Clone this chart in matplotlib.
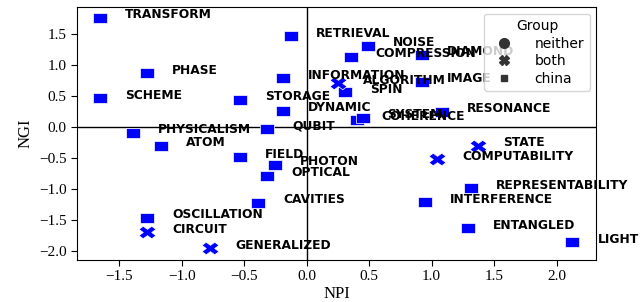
import matplotlib.pyplot as plt
import numpy as np
from matplotlib.path import Path
from matplotlib.markers import MarkerStyle
from matplotlib.lines import Line2D

# Data: terms and their (NPI, NGI) positions
china_terms = ['TRANSFORM', 'PHASE', 'SCHEME', 'STORAGE', 'INFORMATION', 'RETRIEVAL',
               'DYNAMIC', 'QUBIT', 'PHYSICALISM', 'ATOM', 'FIELD', 'PHOTON', 'OPTICAL',
               'CAVITIES', 'OSCILLATION', 'REPRESENTABILITY', 'INTERFERENCE', 'ENTANGLED',
               'LIGHT', 'NOISE', 'COMPRESSION', 'DIAMOND', 'IMAGE', 'SPIN', 'COHERENCE',
               'SYSTEM', 'RESONANCE']
china_npi = [-1.654, -1.275, -1.654, -0.534, -0.187, -0.126,
             -0.187, -0.315, -1.392, -1.166, -0.534, -0.254, -0.320,
             -0.387, -1.275, 1.314, 0.949, 1.288,
             2.128, 0.493, 0.354, 0.920, 0.920, 0.310, 0.400,
             0.448, 1.080]
china_ngi = [1.768, 0.871, 0.468, 0.440, 0.790, 1.470,
             0.268, -0.030, -0.087, -0.300, -0.484, -0.608, -0.780,
             -1.216, -1.463, -0.984, -1.210, -1.630,
             -1.855, 1.311, 1.139, 1.166, 0.735, 0.564, 0.118,
             0.155, 0.252]

both_terms = ['CIRCUIT', 'GENERALIZED', 'STATE', 'COMPUTABILITY', 'ALGORITHM']
both_npi = [-1.275, -0.774, 1.373, 1.045, 0.253]
both_ngi = [-1.694, -1.952, -0.297, -0.516, 0.710]

legend_labels = ['neither', 'both', 'china']

# Markers are slightly wider than tall in the reference
sq_path = Path([(-0.68, -0.5), (0.68, -0.5), (0.68, 0.5), (-0.68, 0.5), (-0.68, -0.5)],
               [Path.MOVETO, Path.LINETO, Path.LINETO, Path.LINETO, Path.CLOSEPOLY])
ms = MarkerStyle('X')
xp = ms.get_path().transformed(ms.get_transform())
x_path = Path(xp.vertices * np.array([1.36, 1.0]), xp.codes)

fig, ax = plt.subplots(figsize=(6.4, 3.02), dpi=100)
fig.subplots_adjust(left=0.12, right=0.932, bottom=0.139, top=0.978)

ax.axhline(0, color='black', linewidth=1, zorder=1)
ax.axvline(0, color='black', linewidth=1, zorder=1)

ax.scatter(china_npi, china_ngi, marker=sq_path, s=100, color='blue',
           edgecolor='white', linewidth=0.5, zorder=2)
ax.scatter(both_npi, both_ngi, marker=x_path, s=150, color='blue',
           edgecolor='white', linewidth=0.5, zorder=2)

for t, x, y in zip(china_terms + both_terms, china_npi + both_npi, china_ngi + both_ngi):
    ax.text(x + 0.2, y + 0.05, t, fontsize=8.8, fontweight='bold',
            family='DejaVu Sans', ha='left', va='center', zorder=3)

ax.set_xlim(-1.84, 2.32)
ax.set_ylim(-2.14, 1.945)
ax.set_xticks([-1.5, -1.0, -0.5, 0.0, 0.5, 1.0, 1.5, 2.0])
ax.set_yticks([-2.0, -1.5, -1.0, -0.5, 0.0, 0.5, 1.0, 1.5])

serif = ['Liberation Serif', 'DejaVu Serif']
for lab in ax.get_xticklabels() + ax.get_yticklabels():
    lab.set_family(serif)
    lab.set_fontsize(11)
ax.set_xlabel('NPI', family=serif, fontsize=12, labelpad=2)
ax.set_ylabel('NGI', family=serif, fontsize=12, labelpad=4)
ax.tick_params(length=4, width=0.8, colors='black')
for s in ax.spines.values():
    s.set_color('black')

# Legend (seaborn-style grey handles)
handles = [Line2D([], [], marker='o', linestyle='', color='#333333', markersize=7),
           Line2D([], [], marker='X', linestyle='', color='#333333', markersize=7),
           Line2D([], [], marker='s', linestyle='', color='#333333', markersize=5)]
leg = ax.legend(handles, legend_labels, title='Group', loc='upper right',
                fontsize=10, title_fontsize=10, labelspacing=0.25,
                handletextpad=1.2, borderaxespad=0.5)
leg.get_frame().set_edgecolor('#cccccc')

plt.savefig('out.png', dpi=100)
